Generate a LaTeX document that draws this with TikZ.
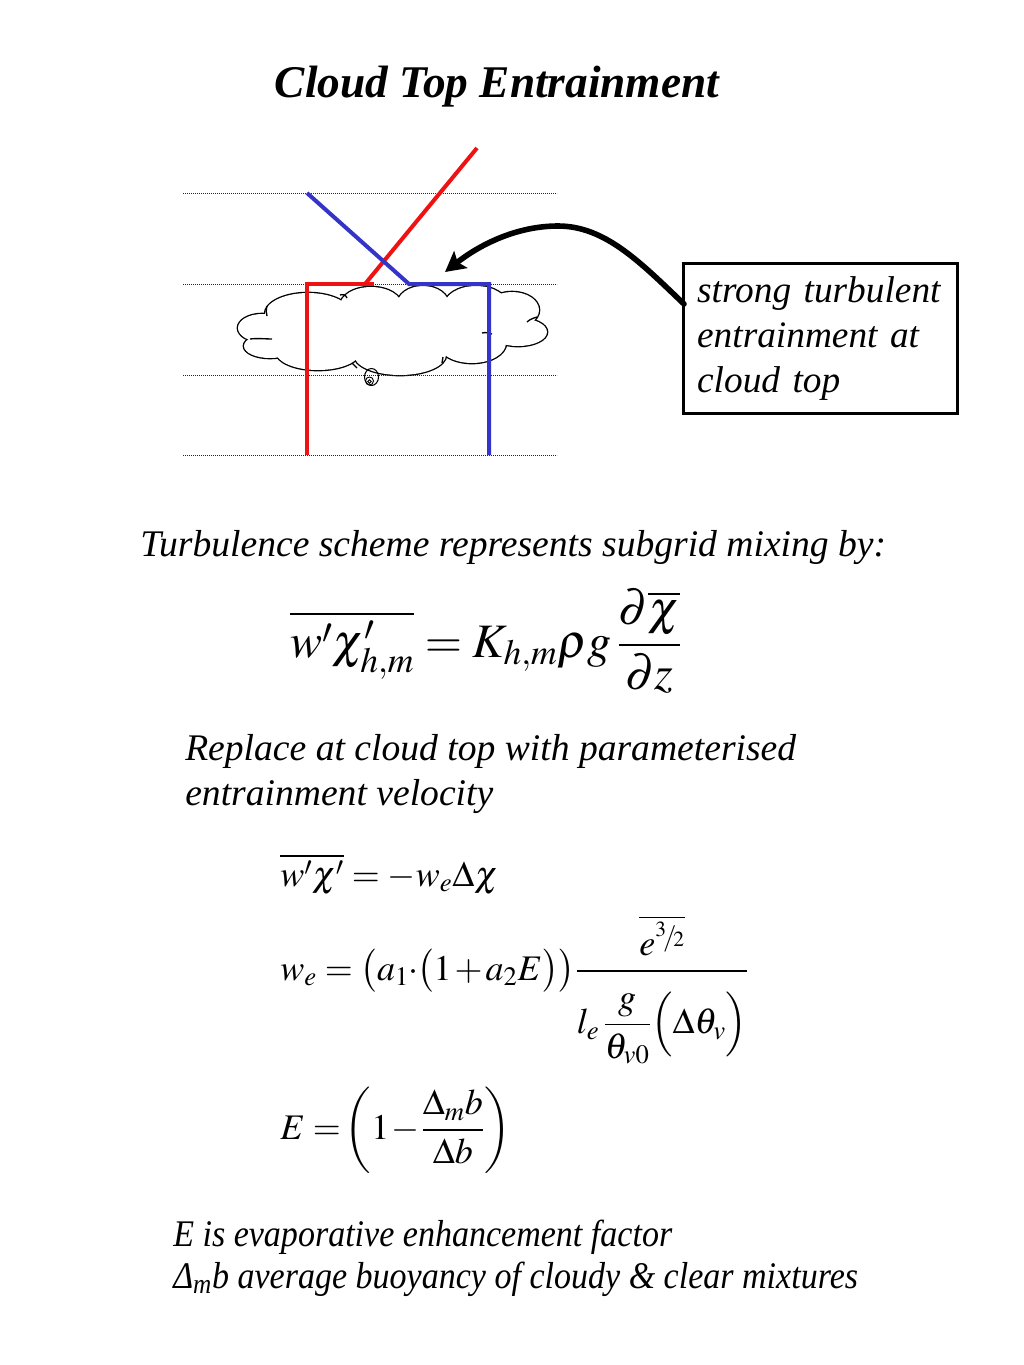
\documentclass[tikz,border=0pt]{standalone}
\usepackage{graphicx}
\usepackage{amsmath}
\usepackage{mathptmx}
\usepackage{fontspec}
\setmainfont{Liberation Serif}
\usetikzlibrary{arrows.meta}
\definecolor{cred}{RGB}{238,18,18}
\definecolor{cblue}{RGB}{52,52,200}
\begin{document}
\begin{tikzpicture}[x=0.75pt,y=-0.75pt,
  txt/.style={font=\fontsize{28.2}{33.75}\selectfont\itshape, inner sep=0pt},
  eqs/.style={font=\fontsize{27}{32}\selectfont, inner sep=0pt},
  dotline/.style={line width=0.7pt, dash pattern=on 0.7pt off 0.8pt, black!85},
  profile/.style={line width=3pt},
  hook/.style={line width=1pt}]
\useasboundingbox[fill=white] (0,0) rectangle (1024,1365);

% title
\node[anchor=base, inner sep=0pt, font=\fontsize{34}{40}\selectfont\bfseries\itshape] (title) at (497,97) {Cloud Top Entrainment};

% cloud (outline of a union of ellipses)
\foreach \cx/\cy/\rx/\ry in {262/328/24/14, 270/346/26/12, 318/352/42/18, 400/355/46/20, 472/343/34/20, 518/332/29/14, 512/310/27/18, 476/306/32/20, 423/305/26/19, 371/306/31/19, 308/314/43/21}
  \draw[line width=2pt] (\cx,\cy) ellipse [x radius=\rx, y radius=\ry];
\foreach \cx/\cy/\rx/\ry in {262/328/24/14, 270/346/26/12, 318/352/42/18, 400/355/46/20, 472/343/34/20, 518/332/29/14, 512/310/27/18, 476/306/32/20, 423/305/26/19, 371/306/31/19, 308/314/43/21, 392/330/120/24}
  \fill[white] (\cx,\cy) ellipse [x radius=\rx, y radius=\ry];
% small interior hooks of the cloud
\draw[hook] (340,295) .. controls (343,294) and (346,295) .. (347,298);
\draw[hook] (527,322) .. controls (530,319) and (534,318) .. (537,317);
\draw[hook] (482,333) .. controls (486,332) and (489,333) .. (492,334);
\draw[hook] (250,339) .. controls (258,338) and (265,339) .. (272,339);
\draw[hook] (352,363) .. controls (354,365) and (355,366) .. (357,368);
\draw[hook] (443,357) .. controls (443,359) and (442,361) .. (442,363);
\draw[hook] (267,306) .. controls (266,310) and (266,313) .. (267,316);
% swirl below the cloud
\draw[line width=0.8pt] (371.5,377) ellipse [x radius=7, y radius=8.5];
\draw[line width=0.7pt] (369.5,381) circle [radius=4];
\draw[line width=0.7pt] (369.5,381.5) circle [radius=1.8];

% dotted levels
\foreach \yy in {193,284,375,455}
  \draw[dotline] (183,\yy) -- (557,\yy);

% profiles
\draw[profile, cred] (307,455) -- (307,284) -- (374,284);
\draw[profile, cred] (365,284) -- (477,148);
\draw[profile, cblue] (307,193) -- (409,284) -- (489,284) -- (489,455);

% annotation box and arrow
\node[draw, line width=2.25pt, minimum width=205.5pt, minimum height=112.5pt,
      text width=185pt, inner xsep=10.1pt, inner ysep=0pt, align=left,
      font=\fontsize{28}{33.75}\selectfont\itshape] (box) at (820.5,338.5)
  {strong turbulent\\entrainment at\\cloud top};
\coordinate (astart) at (684,304);
\coordinate (atip) at (445,272);
\draw[line width=4.2pt, line cap=round, -{Stealth[length=15pt,width=16pt,inset=3pt]}]
  (astart) .. controls (640,262) and (605,226) .. (558,226)
  .. controls (515,226) and (478,246) .. (atip);

% text and equations
\node[txt, anchor=base west] (t1) at (140,556) {Turbulence scheme represents subgrid mixing by:};
\node[anchor=base west, inner sep=0pt, font=\fontsize{36}{44}\selectfont] (eq1) at (290,657)
  {$\thickmuskip=4mu\overline{w'\chi'_{h,m}} = K_{h,m}\rho g\,\dfrac{\partial\overline{\chi}}{\partial z}$};
\node[txt, anchor=base west] (r1) at (185,760) {Replace at cloud top with parameterised};
\node[txt, anchor=base west] (r2) at (185,805) {entrainment velocity};
\node[eqs, anchor=base west] (eq2) at (280,886) {$\medmuskip=3mu\overline{w'\chi'} = -w_e\Delta\chi$};
\node[eqs, anchor=base west] (eq3) at (280,980)
  {$\medmuskip=1.5mu w_e = \bigl(a_1\!\cdot\!\bigl(1+a_2E\bigr)\bigr)\dfrac{\overline{e^{\raisebox{0.5ex}{$\scriptscriptstyle 3$}\!/\!\raisebox{-0.1ex}{$\scriptscriptstyle 2$}}}}{\rule{0pt}{1.6em}l_e\,\dfrac{g}{\theta_{v0}}\Bigl(\Delta\theta_v\Bigr)}$};
\node[eqs, anchor=base west] (eq4) at (280,1139)
  {$\medmuskip=1mu E = \!\left(1-\dfrac{\Delta_m b}{\Delta b}\right)$};
\node[txt, anchor=base west] (n1) at (173,1246) {\scalebox{0.905}[1]{E is evaporative enhancement factor}};
\node[txt, anchor=base west] (n2) at (173,1288) {\scalebox{0.905}[1]{Δ\textsubscript{m}b average buoyancy of cloudy \& clear mixtures}};
\end{tikzpicture}
\end{document}
